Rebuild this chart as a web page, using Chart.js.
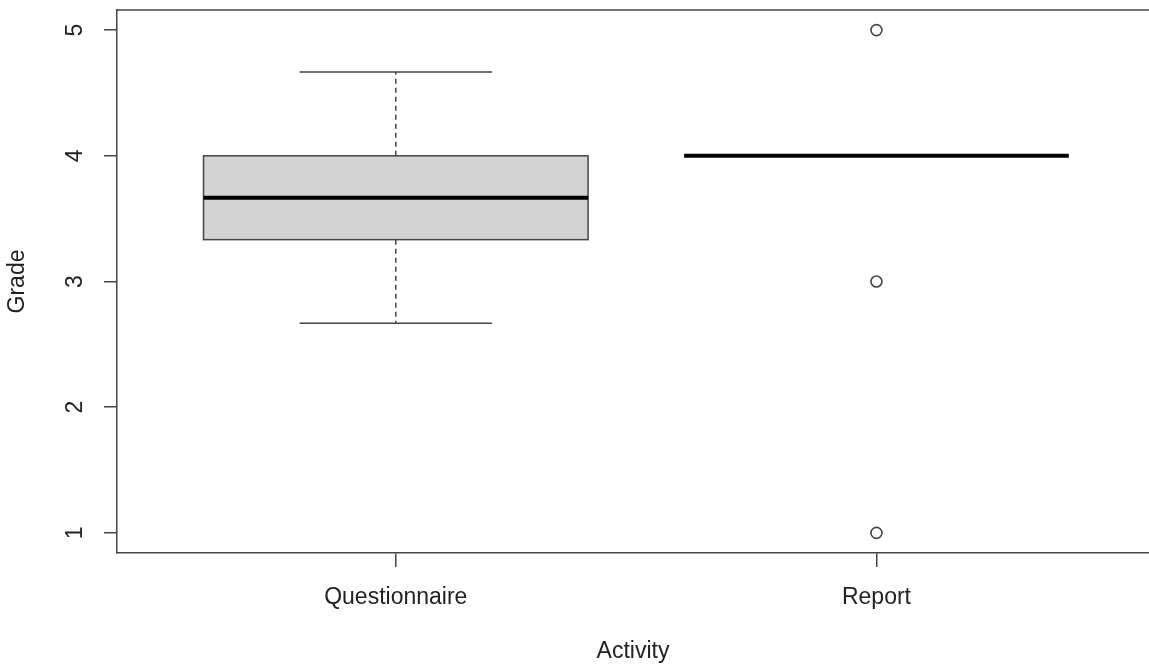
<!DOCTYPE html>
<html>
<head>
<meta charset="utf-8">
<script src="https://cdn.jsdelivr.net/npm/chart.js@4.4.1/dist/chart.umd.min.js"></script>
<style>
    html, body { margin: 0; padding: 0; background: #fff; }
    #wrap { width: 1149px; height: 666px; }
</style>
</head>
<body>
<div id="wrap"><canvas id="boxChart"></canvas></div>
<script>
// values
const categories = ['Questionnaire', 'Report'];
const whiskerLow = [2.667, 4];
const q1 = [3.333, 4];
const median = [3.667, 4];
const q3 = [4, 4];
const whiskerHigh = [4.667, 4];
const outlierCat = [2, 2, 2];
const outlierVal = [5, 3, 1];
const yTicks = [1, 2, 3, 4, 5];
const xTicks = [1, 2];

const FONT = "'Liberation Sans', Arial, sans-serif";
const INK = '#222';
const LINE = '#444';

const boxPlugin = {
    id: 'boxes',
    beforeDatasetsDraw(chart) {
        const {ctx, chartArea, scales: {x, y}} = chart;
        ctx.save();

        // top frame line (left and bottom come from the axes)
        ctx.strokeStyle = LINE;
        ctx.lineWidth = 1.5;
        ctx.beginPath();
        ctx.moveTo(chartArea.left, chartArea.top);
        ctx.lineTo(chartArea.right, chartArea.top);
        ctx.stroke();

        categories.forEach((cat, i) => {
            const c = i + 1;
            const xl = x.getPixelForValue(c - 0.4);
            const xr = x.getPixelForValue(c + 0.4);
            const cl = x.getPixelForValue(c - 0.2);
            const cr = x.getPixelForValue(c + 0.2);
            const xc = x.getPixelForValue(c);
            const yq1 = y.getPixelForValue(q1[i]);
            const yq3 = y.getPixelForValue(q3[i]);
            const ylo = y.getPixelForValue(whiskerLow[i]);
            const yhi = y.getPixelForValue(whiskerHigh[i]);
            const ymed = y.getPixelForValue(median[i]);

            // whiskers
            ctx.strokeStyle = LINE;
            ctx.lineWidth = 1.5;
            ctx.setLineDash([5, 4]);
            ctx.beginPath();
            ctx.moveTo(xc, yq3);
            ctx.lineTo(xc, yhi);
            ctx.moveTo(xc, yq1);
            ctx.lineTo(xc, ylo);
            ctx.stroke();
            ctx.setLineDash([]);
            ctx.beginPath();
            ctx.moveTo(cl, yhi);
            ctx.lineTo(cr, yhi);
            ctx.moveTo(cl, ylo);
            ctx.lineTo(cr, ylo);
            ctx.stroke();

            // box
            ctx.fillStyle = '#d3d3d3';
            ctx.fillRect(xl, yq3, xr - xl, yq1 - yq3);
            ctx.strokeRect(xl, yq3, xr - xl, yq1 - yq3);

            // median
            ctx.lineWidth = 4;
            ctx.strokeStyle = '#000';
            ctx.beginPath();
            ctx.moveTo(xl, ymed);
            ctx.lineTo(xr, ymed);
            ctx.stroke();
        });

        // y tick labels, vertical like base R
        ctx.fillStyle = INK;
        ctx.font = '23px ' + FONT;
        ctx.textAlign = 'center';
        ctx.textBaseline = 'middle';
        yTicks.forEach(v => {
            const py = y.getPixelForValue(v);
            ctx.save();
            ctx.translate(76, py);
            ctx.rotate(-Math.PI / 2);
            ctx.fillText(String(v), 0, 0);
            ctx.restore();
        });
        ctx.restore();
    }
};

new Chart(document.getElementById('boxChart'), {
    type: 'scatter',
    data: {
        datasets: [{
            label: 'Outliers',
            data: outlierCat.map((c, i) => ({x: c, y: outlierVal[i]})),
            pointStyle: 'circle',
            pointRadius: 5.5,
            pointBorderWidth: 1.6,
            pointBorderColor: LINE,
            pointBackgroundColor: 'rgba(0,0,0,0)',
        }],
    },
    options: {
        responsive: true,
        maintainAspectRatio: false,
        animation: false,
        layout: {autoPadding: false, padding: {top: 10, left: 0, right: 0, bottom: 0}},
        plugins: {legend: {display: false}, tooltip: {enabled: false}},
        scales: {
            x: {
                type: 'linear',
                min: 0.42,
                max: 2.567,
                afterBuildTicks: s => { s.ticks = xTicks.map(v => ({value: v})); },
                afterFit: s => {
                    s.height = 113;
                    s.paddingLeft = 0;
                    s.paddingRight = 0;
                },
                ticks: {
                    color: INK,
                    font: {family: FONT, size: 23},
                    padding: 17,
                    maxRotation: 0,
                    callback: v => categories[v - 1],
                },
                grid: {drawOnChartArea: false, drawTicks: true, tickLength: 14, color: LINE, lineWidth: 1.5},
                border: {display: true, color: LINE, width: 1.5},
                title: {
                    display: true,
                    text: 'Activity',
                    color: INK,
                    font: {family: FONT, size: 23},
                    padding: {top: 0, bottom: 1},
                },
            },
            y: {
                type: 'linear',
                min: 0.84,
                max: 5.16,
                afterBuildTicks: s => { s.ticks = yTicks.map(v => ({value: v})); },
                afterFit: s => {
                    s.width = 117;
                    s.paddingTop = 0;
                    s.paddingBottom = 0;
                },
                ticks: {display: false},
                grid: {drawOnChartArea: false, drawTicks: true, tickLength: 13, color: LINE, lineWidth: 1.5},
                border: {display: true, color: LINE, width: 1.5},
                title: {
                    display: true,
                    text: 'Grade',
                    color: INK,
                    font: {family: FONT, size: 23},
                    padding: {top: 4, bottom: 0},
                },
            },
        },
    },
    plugins: [boxPlugin],
});
</script>
</body>
</html>
